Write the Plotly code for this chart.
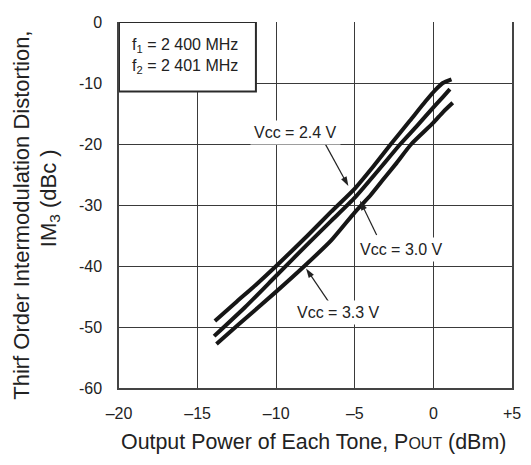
import plotly.graph_objects as go

# ---- data ----
x_tick_vals = [-20, -15, -10, -5, 0, 5]
x_tick_text = ["\u201320", "\u201315", "\u201310", "\u20135", "0", "+5"]
y_tick_vals = [-60, -50, -40, -30, -20, -10, 0]
y_tick_text = ["-60", "-50", "-40", "-30", "-20", "-10", "0"]

# Vcc = 2.4 V (upper curve)
pout_24 = [-13.9, -12.5, -11.3, -10.0, -8.0, -6.5, -5.0, -3.8, -2.7, -1.5, -0.5, 0.1, 0.6, 1.15]
im3_24 = [-49.0, -45.8, -43.1, -40.0, -35.0, -31.1, -27.3, -23.6, -20.0, -16.2, -13.0, -11.2, -10.0, -9.4]
# Vcc = 3.0 V (middle curve)
pout_30 = [-13.95, -12.0, -10.0, -8.0, -6.5, -5.0, -3.5, -2.1, -1.0, 0.0, 0.6, 1.05]
im3_30 = [-51.5, -46.8, -41.6, -36.4, -32.6, -28.8, -24.3, -20.0, -16.9, -14.0, -12.3, -11.0]
# Vcc = 3.3 V (lower curve)
pout_33 = [-13.8, -12.4, -10.0, -8.2, -6.5, -5.0, -4.0, -3.25, -2.4, -1.4, 0.0, 0.6, 1.23]
im3_33 = [-52.8, -49.6, -44.2, -40.0, -35.8, -31.2, -28.4, -26.0, -23.3, -20.0, -16.5, -14.8, -13.25]

series = [("Vcc = 2.4 V", pout_24, im3_24),
          ("Vcc = 3.0 V", pout_30, im3_30),
          ("Vcc = 3.3 V", pout_33, im3_33)]

# label text centre, arrow tail, arrow tip (data coords)
labels = [("Vcc = 2.4 V", (-8.80, -18.1), (-6.90, -19.9), (-5.41, -26.9)),
          ("Vcc = 3.0 V", (-2.02, -37.3), (-3.61, -34.9), (-4.67, -29.3)),
          ("Vcc = 3.3 V", (-6.05, -47.6), (-6.68, -45.8), (-8.10, -40.4))]

FONT = "Liberation Sans, Arial, Helvetica, sans-serif"
TXT = "#222222"
GRID = "#3a3a3a"

fig = go.Figure()
for name, xs, ys in series:
    fig.add_trace(go.Scatter(x=xs, y=ys, mode="lines", name=name,
                             line=dict(color="#161616", width=4, shape="spline", smoothing=0.6),
                             showlegend=False, hoverinfo="skip"))

# pointer arrows (line + arrow-head marker at the tip)
for text, _, (ax, ay), (px, py) in labels:
    fig.add_trace(go.Scatter(x=[ax, px], y=[ay, py], mode="lines+markers",
                             line=dict(color="#222222", width=1.2),
                             marker=dict(symbol="arrow", size=10, angleref="previous",
                                         color="#222222", line=dict(width=0)),
                             showlegend=False, hoverinfo="skip"))

annotations = []
for text, (tx, ty), _, _ in labels:
    annotations.append(dict(x=tx, y=ty, xref="x", yref="y", text=text, showarrow=False,
                            font=dict(family=FONT, size=16, color=TXT),
                            bgcolor="white", borderpad=3))

# frequency box text
annotations.append(dict(x=-15.8, y=-3.77, xref="x", yref="y", text="f<sub>1</sub> = 2 400 MHz",
                        showarrow=False, font=dict(family=FONT, size=16, color=TXT)))
annotations.append(dict(x=-15.8, y=-7.37, xref="x", yref="y", text="f<sub>2</sub> = 2 401 MHz",
                        showarrow=False, font=dict(family=FONT, size=16, color=TXT)))

# axis titles
annotations.append(dict(x=0.495, y=-0.147, xref="paper", yref="paper",
                        text="Output Power of Each Tone, P<span style='font-size:16px'>OUT</span> (dBm)",
                        showarrow=False, xanchor="center", yanchor="middle",
                        font=dict(family=FONT, size=21.4, color=TXT)))
annotations.append(dict(x=-0.2468, y=0.4706, xref="paper", yref="paper",
                        text="Thirf Order Intermodulation Distortion,",
                        showarrow=False, textangle=-90, xanchor="center", yanchor="middle",
                        font=dict(family=FONT, size=22, color=TXT)))
annotations.append(dict(x=-0.1756, y=0.5187, xref="paper", yref="paper",
                        text="IM<sub>3</sub> (dBc )",
                        showarrow=False, textangle=-90, xanchor="center", yanchor="middle",
                        font=dict(family=FONT, size=22, color=TXT)))

fig.update_layout(
    width=523, height=457,
    margin=dict(l=111, r=19, t=6, b=77),
    paper_bgcolor="white", plot_bgcolor="white",
    annotations=annotations,
    shapes=[dict(type="rect", xref="x", yref="y", x0=-20, x1=-11.29, y0=-11.38, y1=0,
                 line=dict(color="#2a2a2a", width=2), fillcolor="white", layer="above")],
    xaxis=dict(range=[-20, 5], tickvals=x_tick_vals, ticktext=x_tick_text,
               showgrid=True, gridcolor=GRID, gridwidth=1.2,
               showline=True, linecolor="#444444", linewidth=1.5, mirror=False,
               ticks="", ticklabelstandoff=10, zeroline=False, ticklabeloverflow="allow",
               tickfont=dict(family=FONT, size=16, color=TXT)),
    yaxis=dict(range=[-60, 0], tickvals=y_tick_vals, ticktext=y_tick_text,
               showgrid=True, gridcolor=GRID, gridwidth=1.2,
               showline=True, linecolor="#444444", linewidth=1.5, mirror=True,
               ticks="", ticklabelstandoff=12, zeroline=False, ticklabeloverflow="allow",
               tickfont=dict(family=FONT, size=16, color=TXT)),
)

fig.write_html("out.html")
